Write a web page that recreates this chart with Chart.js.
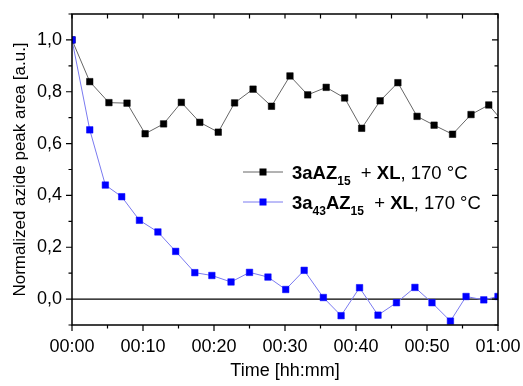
<!DOCTYPE html>
<html>
<head>
<meta charset="utf-8">
<script src="https://cdn.jsdelivr.net/npm/chart.js@4.4.0/dist/chart.umd.min.js"></script>
<style>
  body { margin: 0; background: #fff; }
  canvas { display: block; }
</style>
</head>
<body>
<canvas id="grafico" width="523" height="386"></canvas>
<script>
// datos (tiempo en minutos)
const tiemposNegro = [0, 2.5, 5.2, 7.75, 10.3, 12.9, 15.4, 18.0, 20.6, 22.9, 25.5, 28.1, 30.7, 33.2, 35.8, 38.4, 40.8, 43.4, 45.9, 48.6, 51.0, 53.6, 56.2, 58.7, 61.2];
const valoresNegro = [1.0, 0.839, 0.758, 0.756, 0.638, 0.676, 0.759, 0.682, 0.644, 0.757, 0.81, 0.744, 0.861, 0.788, 0.817, 0.776, 0.659, 0.765, 0.835, 0.705, 0.671, 0.636, 0.712, 0.749, 0.668];

const tiemposAzul = [0, 2.5, 4.7, 7.0, 9.5, 12.1, 14.6, 17.3, 19.7, 22.4, 25.0, 27.6, 30.1, 32.7, 35.4, 37.9, 40.5, 43.1, 45.7, 48.3, 50.7, 53.3, 55.5, 58.0, 60.0];
const valoresAzul = [1.0, 0.653, 0.44, 0.395, 0.304, 0.259, 0.184, 0.102, 0.091, 0.066, 0.103, 0.085, 0.037, 0.111, 0.006, -0.064, 0.044, -0.062, -0.014, 0.045, -0.014, -0.085, 0.01, -0.003, 0.01];

const tituloX = 'Time [hh:mm]';
const tituloY = 'Normalized azide peak area [a.u.]';

// leyenda con subíndices
const leyendaNegro = [
  {t: '3aAZ', b: true}, {t: '15', b: true, sub: true}, {t: '  + '}, {t: 'XL', b: true}, {t: ', 170 °C'}
];
const leyendaAzul = [
  {t: '3a', b: true}, {t: '43', b: true, sub: true}, {t: 'AZ', b: true}, {t: '15', b: true, sub: true},
  {t: '  + '}, {t: 'XL', b: true}, {t: ', 170 °C'}
];

const fuente = "Arial, 'Liberation Sans', sans-serif";

const aPuntos = (xs, ys) => xs.map((x, i) => ({x: x, y: ys[i]}));

const formatoHora = (v) => {
  const h = Math.floor(v / 60);
  const m = Math.round(v % 60);
  return String(h).padStart(2, '0') + ':' + String(m).padStart(2, '0');
};

// marco, ticks y línea del cero
const marco = {
  id: 'marco',
  beforeDatasetsDraw(chart) {
    const {ctx, chartArea: a, scales: {y}} = chart;
    const y0 = y.getPixelForValue(0);
    ctx.save();
    ctx.strokeStyle = '#000';
    ctx.lineWidth = 1.3;
    ctx.beginPath();
    ctx.moveTo(a.left, y0);
    ctx.lineTo(a.right, y0);
    ctx.stroke();
    ctx.restore();
  },
  afterDatasetsDraw(chart) {
    const {ctx, chartArea: a, scales: {x, y}} = chart;
    ctx.save();
    ctx.strokeStyle = '#000';
    ctx.lineWidth = 1.5;
    ctx.strokeRect(a.left, a.top, a.right - a.left, a.bottom - a.top);
    ctx.lineWidth = 1.2;
    ctx.beginPath();
    for (let v = 0; v <= 60; v += 5) {
      const px = x.getPixelForValue(v);
      const largo = v % 10 === 0 ? 6 : 3.5;
      ctx.moveTo(px, a.bottom);
      ctx.lineTo(px, a.bottom + largo);
      ctx.moveTo(px, a.top);
      ctx.lineTo(px, a.top + 4.5);
    }
    for (let i = -1; i <= 11; i++) {
      const py = y.getPixelForValue(i / 10);
      const largo = i % 2 === 0 ? 6 : 3.5;
      ctx.moveTo(a.left, py);
      ctx.lineTo(a.left - largo, py);
      ctx.moveTo(a.right, py);
      ctx.lineTo(a.right - largo, py);
    }
    ctx.stroke();
    ctx.restore();
  },
  afterDraw(chart) {
    const {ctx, chartArea: a} = chart;
    const filas = [leyendaNegro, leyendaAzul];
    ctx.save();
    filas.forEach((fila, i) => {
      const ds = chart.data.datasets[i];
      const cy = a.top + 158 + i * 30;
      const lx = a.left + 171;
      ctx.strokeStyle = ds.borderColor;
      ctx.lineWidth = 1;
      ctx.beginPath();
      ctx.moveTo(lx, cy);
      ctx.lineTo(lx + 40, cy);
      ctx.stroke();
      ctx.fillStyle = ds.pointBackgroundColor;
      ctx.fillRect(lx + 20 - 3.5, cy - 3.5, 7, 7);
      let tx = lx + 49;
      ctx.fillStyle = '#000';
      ctx.textBaseline = 'alphabetic';
      fila.forEach(seg => {
        const tam = seg.sub ? 12 : 18.5;
        ctx.font = (seg.b ? 'bold ' : '') + tam + 'px ' + fuente;
        ctx.fillText(seg.t, tx, cy + (seg.sub ? 13 : 6.5));
        tx += ctx.measureText(seg.t).width;
      });
    });
    ctx.restore();
  }
};

const contenedor = document.getElementById('grafico');

const grafico = new Chart(contenedor, {
  type: 'scatter',
  data: {
    datasets: [{
      label: '3aAZ15 + XL, 170 °C',
      data: aPuntos(tiemposNegro, valoresNegro),
      showLine: true,
      borderColor: '#666',
      borderWidth: 1,
      pointStyle: 'rect',
      pointRadius: 4.6,
      pointBackgroundColor: '#000',
      pointBorderColor: '#000',
      pointBorderWidth: 0.5,
      order: 1
    }, {
      label: '3a43AZ15 + XL, 170 °C',
      data: aPuntos(tiemposAzul, valoresAzul),
      showLine: true,
      borderColor: '#7a7af0',
      borderWidth: 1,
      pointStyle: 'rect',
      pointRadius: 4.6,
      pointBackgroundColor: '#0000ff',
      pointBorderColor: '#0000ff',
      pointBorderWidth: 0.5,
      order: 0
    }]
  },
  options: {
    responsive: false,
    animation: false,
    layout: { padding: { top: 14, right: 25, left: 0, bottom: 0 } },
    plugins: { legend: { display: false }, tooltip: { enabled: false } },
    scales: {
      x: {
        type: 'linear',
        min: 0,
        max: 60,
        grid: { display: false, drawTicks: false },
        border: { display: false },
        ticks: {
          stepSize: 10,
          autoSkip: false,
          maxRotation: 0,
          padding: 11,
          color: '#000',
          font: { family: fuente, size: 18 },
          callback: (v) => formatoHora(v)
        },
        title: {
          display: true,
          text: tituloX,
          color: '#000',
          font: { family: fuente, size: 18 },
          padding: { top: 0, bottom: 4 }
        },
        afterFit: (s) => { s.height = 61; s.paddingLeft = 0; s.paddingRight = 0; }
      },
      y: {
        type: 'linear',
        min: -0.1,
        max: 1.1,
        grid: { display: false, drawTicks: false },
        border: { display: false },
        ticks: {
          stepSize: 0.1,
          autoSkip: false,
          padding: 10,
          color: '#000',
          font: { family: fuente, size: 18 },
          callback: (v) => {
            const r = Math.round(v * 10);
            if (r % 2 !== 0) return '';
            return (r / 10).toFixed(1).replace('.', ',');
          }
        },
        title: {
          display: true,
          text: tituloY,
          color: '#000',
          font: { family: fuente, size: 17 },
          padding: { top: 10, bottom: 0 }
        },
        afterFit: (s) => { s.width = 72; s.paddingTop = 0; s.paddingBottom = 0; }
      }
    }
  },
  plugins: [marco]
});
</script>
</body>
</html>
